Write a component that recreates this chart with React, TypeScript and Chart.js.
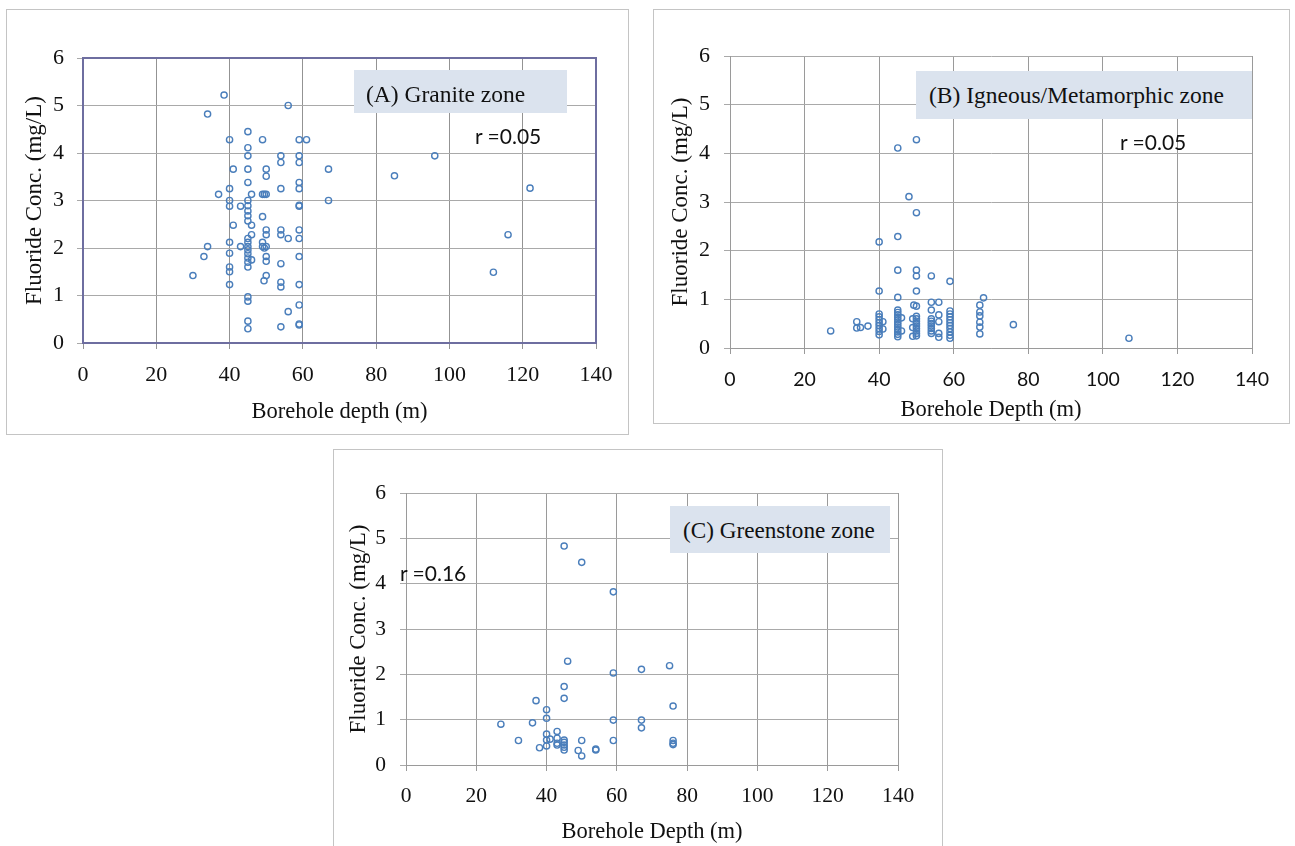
import React, { useEffect, useRef } from "react";
import { Chart, registerables } from "chart.js";

Chart.register(...registerables);

// ---------------- Data ----------------
const xTickValues = [0, 20, 40, 60, 80, 100, 120, 140];
const yTickValues = [0, 1, 2, 3, 4, 5, 6];

const graniteDepth = [
  38.5, 34, 56, 45, 40, 49, 59, 61, 45, 45,
  54, 54, 59, 59, 41, 45, 50, 50, 45, 59,
  59, 40, 54, 37, 46, 49, 49.5, 50, 40, 40,
  43, 45, 45, 45, 45, 45, 46, 41, 49, 59,
  59, 50, 50, 54, 54, 56, 59, 59, 46, 45,
  45, 45, 45, 45, 45, 45, 45, 46, 40, 34,
  43, 33, 40, 40, 40, 40, 30, 49, 49, 49.5,
  50, 50, 50, 50, 49.4, 54, 54, 54, 59, 59,
  45, 45, 59, 56, 45, 45, 54, 59, 59, 67,
  67, 96, 85, 122, 116, 112,
];
const graniteFluoride = [
  5.22, 4.82, 5.0, 4.45, 4.28, 4.28, 4.28, 4.28, 4.11, 3.94,
  3.94, 3.8, 3.94, 3.8, 3.66, 3.66, 3.66, 3.51, 3.38, 3.38,
  3.25, 3.25, 3.25, 3.13, 3.13, 3.13, 3.13, 3.13, 3.0, 2.88,
  2.88, 3.0, 2.89, 2.78, 2.68, 2.57, 2.48, 2.48, 2.66, 2.88,
  2.9, 2.38, 2.28, 2.38, 2.28, 2.2, 2.38, 2.2, 2.28, 2.2,
  2.12, 2.03, 1.96, 1.88, 1.79, 1.7, 1.6, 1.75, 2.12, 2.03,
  2.03, 1.82, 1.89, 1.6, 1.5, 1.23, 1.42, 2.12, 2.03, 2.0,
  2.03, 1.82, 1.72, 1.42, 1.31, 1.67, 1.28, 1.18, 1.82, 1.23,
  0.97, 0.88, 0.8, 0.66, 0.46, 0.3, 0.34, 0.4, 0.38, 3.66,
  3.0, 3.94, 3.52, 3.26, 2.28, 1.49,
];

const igneousDepth = [
  45, 50, 48, 50, 40, 45, 45, 50, 50, 54,
  59, 40, 50, 45, 49.3, 50, 54, 56, 54, 68,
  67, 67, 67, 67, 67, 67, 76, 107, 27, 34,
  34, 35, 37, 41, 41,
  40, 40, 40, 40, 40, 40, 40, 40,
  45, 45, 45, 45, 45, 45, 45, 45, 45, 45, 45, 45,
  46, 46,
  50, 50, 50, 50, 50, 50, 50, 50, 50,
  49, 49, 49,
  54, 54, 54, 54, 54, 54, 54,
  56, 56, 56, 56,
  59, 59, 59, 59, 59, 59, 59, 59, 59, 59,
];
const igneousFluoride = [
  4.11, 4.28, 3.11, 2.78, 2.18, 2.29, 1.6, 1.6, 1.48, 1.48,
  1.37, 1.17, 1.17, 1.04, 0.88, 0.86, 0.94, 0.94, 0.78, 1.03,
  0.88, 0.74, 0.66, 0.53, 0.43, 0.29, 0.48, 0.2, 0.35, 0.54,
  0.41, 0.42, 0.45, 0.54, 0.39,
  0.7, 0.64, 0.58, 0.52, 0.46, 0.4, 0.34, 0.27,
  0.78, 0.73, 0.68, 0.63, 0.58, 0.53, 0.48, 0.43, 0.38, 0.33, 0.28, 0.23,
  0.62, 0.35,
  0.65, 0.6, 0.55, 0.5, 0.45, 0.4, 0.35, 0.3, 0.25,
  0.6, 0.42, 0.24,
  0.6, 0.55, 0.5, 0.45, 0.4, 0.35, 0.3,
  0.68, 0.54, 0.3, 0.22,
  0.76, 0.7, 0.64, 0.58, 0.52, 0.46, 0.4, 0.33, 0.26, 0.2,
];

const greenstoneDepth = [
  45, 50, 59, 46, 59, 67, 75, 76, 45, 45,
  37, 40, 40, 27, 36, 59, 67, 67, 32, 38,
  40, 40, 41, 40, 43, 43, 43, 43, 45, 45,
  45, 45, 45, 50, 49, 50, 54, 54, 59, 76,
  76, 76,
];
const greenstoneFluoride = [
  4.83, 4.47, 3.82, 2.29, 2.03, 2.11, 2.19, 1.3, 1.73, 1.47,
  1.42, 1.22, 1.03, 0.9, 0.93, 0.99, 0.99, 0.82, 0.54, 0.38,
  0.68, 0.55, 0.57, 0.42, 0.74, 0.59, 0.48, 0.44, 0.55, 0.5,
  0.44, 0.39, 0.33, 0.54, 0.32, 0.2, 0.35, 0.33, 0.54, 0.54,
  0.48, 0.45,
];

const panelTitles = ["(A) Granite zone", "(B) Igneous/Metamorphic zone", "(C) Greenstone zone"];
const rLabels = ["r =0.05", "r =0.05", "r =0.16"];
const xAxisTitles = ["Borehole depth (m)", "Borehole Depth (m)", "Borehole Depth (m)"];
const yAxisTitle = "Fluoride Conc. (mg/L)";

// ---------------- Styling / layout ----------------
const SERIF = "'Liberation Serif', 'Times New Roman', serif";
const SANS = "Lato, 'Open Sans', sans-serif";
const MARKER = "#4a7ebb";
const TICK_LEN = 6;

type Rect = { l: number; t: number; r: number; b: number };
type Spec = {
  frame: { x: number; y: number; w: number; h: number };
  plot: Rect;
  depth: number[];
  fluoride: number[];
  title: string;
  rText: string;
  xTitle: string;
  yTitleCx: number;
  xTitleCy: number;
  xTickCy: number;
  yTickRight: number;
  xTickFont: { family: string; size: number };
  yTickFont: { family: string; size: number };
  box: Rect;
  boxTextLeft: number;
  boxTextCy: number;
  boxFont: number;
  rLeft: number;
  rCy: number;
  plotBorder: string | null;
  axisColor: string;
  xGrid: string;
  yGrid: string;
};

const specs: Spec[] = [
  {
    frame: { x: 6, y: 9, w: 623, h: 426 },
    plot: { l: 83, t: 58, r: 596, b: 343 },
    depth: graniteDepth,
    fluoride: graniteFluoride,
    title: panelTitles[0],
    rText: rLabels[0],
    xTitle: xAxisTitles[0],
    yTitleCx: 35,
    xTitleCy: 412,
    xTickCy: 375,
    yTickRight: 64,
    xTickFont: { family: SERIF, size: 22 },
    yTickFont: { family: SERIF, size: 22 },
    box: { l: 354, t: 70, r: 567, b: 113 },
    boxTextLeft: 366,
    boxTextCy: 94,
    boxFont: 23.5,
    rLeft: 475,
    rCy: 136,
    plotBorder: "#6e6ea0",
    axisColor: "#6e6ea0",
    xGrid: "#939393",
    yGrid: "#a9a9a9",
  },
  {
    frame: { x: 653, y: 9, w: 637, h: 415 },
    plot: { l: 730, t: 56, r: 1252, b: 348 },
    depth: igneousDepth,
    fluoride: igneousFluoride,
    title: panelTitles[1],
    rText: rLabels[1],
    xTitle: xAxisTitles[1],
    yTitleCx: 681,
    xTitleCy: 410,
    xTickCy: 380,
    yTickRight: 710,
    xTickFont: { family: SANS, size: 19.5 },
    yTickFont: { family: SERIF, size: 22 },
    box: { l: 916, t: 71, r: 1252, b: 119 },
    boxTextLeft: 929,
    boxTextCy: 95,
    boxFont: 23.5,
    rLeft: 1120,
    rCy: 142,
    plotBorder: null,
    axisColor: "#9a9a9a",
    xGrid: "#9a9a9a",
    yGrid: "#a9a9a9",
  },
  {
    frame: { x: 333, y: 449, w: 610, h: 420 },
    plot: { l: 406, t: 493, r: 898, b: 765 },
    depth: greenstoneDepth,
    fluoride: greenstoneFluoride,
    title: panelTitles[2],
    rText: rLabels[2],
    xTitle: xAxisTitles[2],
    yTitleCx: 358.5,
    xTitleCy: 832,
    xTickCy: 796,
    yTickRight: 386,
    xTickFont: { family: SERIF, size: 21.5 },
    yTickFont: { family: SERIF, size: 21.5 },
    box: { l: 670, t: 506, r: 890, b: 553 },
    boxTextLeft: 683,
    boxTextCy: 530,
    boxFont: 23.2,
    rLeft: 400,
    rCy: 573,
    plotBorder: null,
    axisColor: "#9a9a9a",
    xGrid: "#9a9a9a",
    yGrid: "#a9a9a9",
  },
];

const plotBorderPlugin = {
  id: "plotBorder",
  beforeDatasetsDraw(chart: any, _args: any, opts: any) {
    if (!opts || !opts.color) return;
    const { ctx, chartArea } = chart;
    ctx.save();
    ctx.strokeStyle = opts.color;
    ctx.lineWidth = opts.width || 2;
    ctx.strokeRect(chartArea.left, chartArea.top, chartArea.right - chartArea.left, chartArea.bottom - chartArea.top);
    ctx.restore();
  },
};

function Panel({ s }: { s: Spec }) {
  const ref = useRef<HTMLCanvasElement | null>(null);
  useEffect(() => {
    if (!ref.current) return;
    const { frame, plot } = s;
    const yTitleSize = 23;
    const xTitleSize = 22.5;
    const yTitleLH = yTitleSize * 1.2;
    const xTitleLH = xTitleSize * 1.2;
    const xTickLH = s.xTickFont.size * 1.2;
    const chart = new Chart(ref.current, {
      type: "scatter",
      data: {
        datasets: [
          {
            data: s.depth.map((x, i) => ({ x, y: s.fluoride[i] })),
            pointStyle: "circle",
            pointRadius: 3.1,
            pointBorderWidth: 1.4,
            pointBorderColor: MARKER,
            pointBackgroundColor: "rgba(0,0,0,0)",
            borderColor: MARKER,
            backgroundColor: "rgba(0,0,0,0)",
            showLine: false,
          },
        ],
      },
      options: {
        responsive: false,
        animation: false,
        events: [],
        layout: {
          padding: {
            left: 0,
            top: plot.t - frame.y,
            right: frame.x + frame.w - plot.r,
            bottom: 0,
          },
        },
        plugins: {
          legend: { display: false },
          tooltip: { enabled: false },
          plotBorder: { color: s.plotBorder, width: 2 },
        } as any,
        scales: {
          x: {
            type: "linear",
            min: xTickValues[0],
            max: xTickValues[xTickValues.length - 1],
            afterFit: (sc: any) => {
              sc.height = frame.y + frame.h - plot.b;
            },
            afterBuildTicks: (sc: any) => {
              sc.ticks = xTickValues.map((v) => ({ value: v }));
            },
            ticks: {
              autoSkip: false,
              maxRotation: 0,
              color: "#111",
              padding: s.xTickCy - plot.b - TICK_LEN - xTickLH / 2,
              font: { family: s.xTickFont.family, size: s.xTickFont.size, lineHeight: 1.2 },
            },
            grid: { color: s.xGrid, tickColor: s.xGrid, tickLength: TICK_LEN, lineWidth: 1 },
            border: { display: true, color: s.axisColor, width: 1 },
            title: {
              display: true,
              text: s.xTitle,
              color: "#111",
              font: { family: SERIF, size: xTitleSize, lineHeight: 1.2 },
              padding: { top: 0, bottom: frame.y + frame.h - s.xTitleCy - xTitleLH / 2 },
            },
          },
          y: {
            type: "linear",
            min: yTickValues[0],
            max: yTickValues[yTickValues.length - 1],
            afterFit: (sc: any) => {
              sc.width = plot.l - frame.x;
            },
            afterBuildTicks: (sc: any) => {
              sc.ticks = yTickValues.map((v) => ({ value: v }));
            },
            ticks: {
              color: "#111",
              padding: plot.l - s.yTickRight - TICK_LEN,
              font: { family: s.yTickFont.family, size: s.yTickFont.size, lineHeight: 1.2 },
            },
            grid: { color: s.yGrid, tickColor: s.yGrid, tickLength: TICK_LEN, lineWidth: 1 },
            border: { display: true, color: s.axisColor, width: 1 },
            title: {
              display: true,
              text: yAxisTitle,
              color: "#111",
              font: { family: SERIF, size: yTitleSize, lineHeight: 1.2 },
              padding: { top: s.yTitleCx - frame.x - yTitleLH / 2, bottom: 0 },
            },
          },
        },
      } as any,
      plugins: [plotBorderPlugin],
    });
    return () => chart.destroy();
  }, [s]);

  const { frame, box } = s;
  const boxLH = Math.round(s.boxFont * 1.3);
  const rLH = 26;
  return (
    <>
      <div
        style={{
          position: "absolute",
          left: frame.x,
          top: frame.y,
          width: frame.w,
          height: frame.h,
          boxSizing: "border-box",
          border: "1px solid #c4c4c4",
          background: "#fff",
        }}
      />
      <canvas
        ref={ref}
        width={frame.w}
        height={frame.h}
        style={{ position: "absolute", left: frame.x, top: frame.y, width: frame.w, height: frame.h }}
      />
      <div
        style={{
          position: "absolute",
          left: box.l,
          top: box.t,
          width: box.r - box.l,
          height: box.b - box.t,
          background: "#dbe3ee",
        }}
      />
      <div
        style={{
          position: "absolute",
          left: s.boxTextLeft,
          top: s.boxTextCy - boxLH / 2,
          height: boxLH,
          lineHeight: boxLH + "px",
          fontFamily: SERIF,
          fontSize: s.boxFont,
          color: "#111",
          whiteSpace: "nowrap",
        }}
      >
        {s.title}
      </div>
      <div
        style={{
          position: "absolute",
          left: s.rLeft,
          top: s.rCy - rLH / 2,
          height: rLH,
          lineHeight: rLH + "px",
          fontFamily: SANS,
          fontSize: 21,
          color: "#111",
          whiteSpace: "nowrap",
        }}
      >
        {s.rText}
      </div>
    </>
  );
}

export default function App() {
  return (
    <div
      style={{
        position: "fixed",
        left: 0,
        top: 0,
        width: 1295,
        height: 846,
        overflow: "hidden",
        background: "#fff",
      }}
    >
      {specs.map((s, i) => (
        <Panel key={i} s={s} />
      ))}
    </div>
  );
}
